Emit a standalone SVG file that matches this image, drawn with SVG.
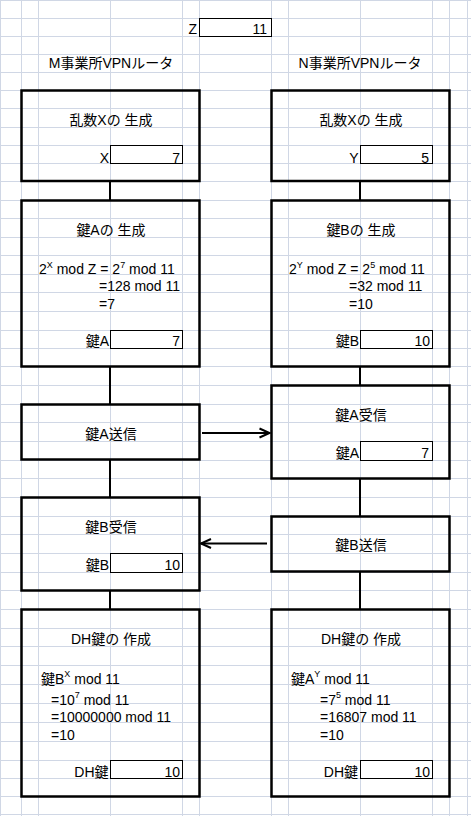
<svg xmlns="http://www.w3.org/2000/svg" width="471" height="816" viewBox="0 0 471 816">
<style>
.grid line{stroke:#d0d7e5;stroke-width:1}
.box{fill:none;stroke:#000;stroke-width:2.5}
.val{fill:none;stroke:#000;stroke-width:1}
text{font-family:"Liberation Sans","Noto Sans CJK JP",sans-serif;font-size:14px;fill:#000}
.c{text-anchor:middle}
.r{text-anchor:end}
.sup{font-size:9px}
.conn line{stroke:#000;stroke-width:2}
</style>
<defs>
<marker id="ah" markerUnits="userSpaceOnUse" markerWidth="14" markerHeight="12" refX="11" refY="5" orient="auto" overflow="visible">
<path d="M1,0.5 L11,5 L1,9.5" fill="none" stroke="#000" stroke-width="2"/>
</marker>
</defs>
<rect width="471" height="816" fill="#fff"/>
<g class="grid">
<line x1="0.5" y1="0" x2="0.5" y2="816"/>
<line x1="21.5" y1="0" x2="21.5" y2="816"/>
<line x1="38.5" y1="0" x2="38.5" y2="816"/>
<line x1="110.5" y1="0" x2="110.5" y2="816"/>
<line x1="182.5" y1="0" x2="182.5" y2="816"/>
<line x1="199.5" y1="0" x2="199.5" y2="816"/>
<line x1="271.5" y1="0" x2="271.5" y2="816"/>
<line x1="288.5" y1="0" x2="288.5" y2="816"/>
<line x1="360.5" y1="0" x2="360.5" y2="816"/>
<line x1="432.5" y1="0" x2="432.5" y2="816"/>
<line x1="449.5" y1="0" x2="449.5" y2="816"/>
<line x1="467.5" y1="0" x2="467.5" y2="816"/>
<line x1="0" y1="0.5" x2="471" y2="0.5"/>
<line x1="0" y1="18.5" x2="471" y2="18.5"/>
<line x1="0" y1="36.5" x2="471" y2="36.5"/>
<line x1="0" y1="54.5" x2="471" y2="54.5"/>
<line x1="0" y1="72.5" x2="471" y2="72.5"/>
<line x1="0" y1="90.5" x2="471" y2="90.5"/>
<line x1="0" y1="108.5" x2="471" y2="108.5"/>
<line x1="0" y1="127.5" x2="471" y2="127.5"/>
<line x1="0" y1="145.5" x2="471" y2="145.5"/>
<line x1="0" y1="163.5" x2="471" y2="163.5"/>
<line x1="0" y1="181.5" x2="471" y2="181.5"/>
<line x1="0" y1="200.5" x2="471" y2="200.5"/>
<line x1="0" y1="218.5" x2="471" y2="218.5"/>
<line x1="0" y1="237.5" x2="471" y2="237.5"/>
<line x1="0" y1="255.5" x2="471" y2="255.5"/>
<line x1="0" y1="274.5" x2="471" y2="274.5"/>
<line x1="0" y1="292.5" x2="471" y2="292.5"/>
<line x1="0" y1="311.5" x2="471" y2="311.5"/>
<line x1="0" y1="330.5" x2="471" y2="330.5"/>
<line x1="0" y1="348.5" x2="471" y2="348.5"/>
<line x1="0" y1="366.5" x2="471" y2="366.5"/>
<line x1="0" y1="385.5" x2="471" y2="385.5"/>
<line x1="0" y1="404.5" x2="471" y2="404.5"/>
<line x1="0" y1="422.5" x2="471" y2="422.5"/>
<line x1="0" y1="441.5" x2="471" y2="441.5"/>
<line x1="0" y1="460.5" x2="471" y2="460.5"/>
<line x1="0" y1="478.5" x2="471" y2="478.5"/>
<line x1="0" y1="497.5" x2="471" y2="497.5"/>
<line x1="0" y1="516.5" x2="471" y2="516.5"/>
<line x1="0" y1="534.5" x2="471" y2="534.5"/>
<line x1="0" y1="553.5" x2="471" y2="553.5"/>
<line x1="0" y1="572.5" x2="471" y2="572.5"/>
<line x1="0" y1="590.5" x2="471" y2="590.5"/>
<line x1="0" y1="609.5" x2="471" y2="609.5"/>
<line x1="0" y1="628.5" x2="471" y2="628.5"/>
<line x1="0" y1="646.5" x2="471" y2="646.5"/>
<line x1="0" y1="665.5" x2="471" y2="665.5"/>
<line x1="0" y1="684.5" x2="471" y2="684.5"/>
<line x1="0" y1="703.5" x2="471" y2="703.5"/>
<line x1="0" y1="722.5" x2="471" y2="722.5"/>
<line x1="0" y1="741.5" x2="471" y2="741.5"/>
<line x1="0" y1="760.5" x2="471" y2="760.5"/>
<line x1="0" y1="778.5" x2="471" y2="778.5"/>
<line x1="0" y1="796.5" x2="471" y2="796.5"/>
<line x1="0" y1="814.5" x2="471" y2="814.5"/>
</g>

<g id="param-z">
<text x="197" y="34" class="r">Z</text>
<rect class="val" x="199.5" y="18.5" width="72" height="18"/>
<text x="267" y="33.5" class="r">11</text>
</g>

<g id="header-m"><text x="111" y="68" class="c">M事業所VPNルータ</text></g>
<g id="header-n"><text x="360" y="68" class="c">N事業所VPNルータ</text></g>

<g id="m-random">
<rect class="box" x="21.5" y="90.5" width="178" height="90.5"/>
<text x="111" y="124.5" class="c">乱数Xの 生成</text>
<text x="109" y="162.5" class="r">X</text>
<rect class="val" x="110.5" y="145.5" width="72" height="18"/>
<text x="180" y="162.5" class="r">7</text>
</g>

<g id="n-random">
<rect class="box" x="271.5" y="90.5" width="178" height="90.5"/>
<text x="361" y="124.5" class="c">乱数Xの 生成</text>
<text x="358.5" y="162.5" class="r">Y</text>
<rect class="val" x="360.5" y="145.5" width="72" height="18"/>
<text x="429" y="162.5" class="r">5</text>
</g>

<g id="m-keygen">
<rect class="box" x="21.5" y="200.5" width="178" height="166"/>
<text x="111" y="234.5" class="c">鍵Aの 生成</text>
<text x="39" y="274">2<tspan class="sup" dy="-6">X</tspan><tspan dy="6"> mod Z = 2</tspan><tspan class="sup" dy="-6">7</tspan><tspan dy="6"> mod 11</tspan></text>
<text x="99" y="291">=128 mod 11</text>
<text x="99" y="308.5">=7</text>
<text x="109" y="346" class="r">鍵A</text>
<rect class="val" x="110.5" y="330.5" width="72" height="18"/>
<text x="180" y="346" class="r">7</text>
</g>

<g id="n-keygen">
<rect class="box" x="271.5" y="200.5" width="178" height="166"/>
<text x="361" y="234.5" class="c">鍵Bの 生成</text>
<text x="289" y="274">2<tspan class="sup" dy="-6">Y</tspan><tspan dy="6"> mod Z = 2</tspan><tspan class="sup" dy="-6">5</tspan><tspan dy="6"> mod 11</tspan></text>
<text x="349" y="291">=32 mod 11</text>
<text x="349" y="308.5">=10</text>
<text x="359" y="346" class="r">鍵B</text>
<rect class="val" x="360.5" y="330.5" width="72" height="18"/>
<text x="430" y="346" class="r">10</text>
</g>

<g id="m-send">
<rect class="box" x="21.5" y="404.5" width="178" height="55"/>
<text x="111" y="438.5" class="c">鍵A送信</text>
</g>

<g id="n-receive">
<rect class="box" x="271.5" y="385.5" width="178" height="93"/>
<text x="361" y="420" class="c">鍵A受信</text>
<text x="359" y="457.5" class="r">鍵A</text>
<rect class="val" x="360.5" y="441.5" width="72" height="19"/>
<text x="429" y="457.5" class="r">7</text>
</g>

<g id="m-receive">
<rect class="box" x="21.5" y="497.5" width="178" height="93"/>
<text x="111" y="532" class="c">鍵B受信</text>
<text x="109" y="570" class="r">鍵B</text>
<rect class="val" x="110.5" y="553.5" width="72" height="19"/>
<text x="180" y="570" class="r">10</text>
</g>

<g id="n-send">
<rect class="box" x="271.5" y="516.5" width="178" height="55"/>
<text x="361" y="550" class="c">鍵B送信</text>
</g>

<g id="m-dh">
<rect class="box" x="21.5" y="609.5" width="178" height="187"/>
<text x="111" y="643.5" class="c">DH鍵の 作成</text>
<text x="41" y="683.5">鍵B<tspan class="sup" dy="-6.5">X</tspan><tspan dy="6.5"> mod 11</tspan></text>
<text x="51" y="704.5">=10<tspan class="sup" dy="-6.5">7</tspan><tspan dy="6.5"> mod 11</tspan></text>
<text x="51" y="721.8">=10000000 mod 11</text>
<text x="51" y="739.5">=10</text>
<text x="108.5" y="776.5" class="r">DH鍵</text>
<rect class="val" x="110.5" y="760.5" width="72" height="18"/>
<text x="180" y="776.5" class="r">10</text>
</g>

<g id="n-dh">
<rect class="box" x="271.5" y="609.5" width="178" height="187"/>
<text x="361" y="643.5" class="c">DH鍵の 作成</text>
<text x="291" y="683.5">鍵A<tspan class="sup" dy="-6.5">Y</tspan><tspan dy="6.5"> mod 11</tspan></text>
<text x="320" y="704.5">=7<tspan class="sup" dy="-6.5">5</tspan><tspan dy="6.5"> mod 11</tspan></text>
<text x="320" y="721.8">=16807 mod 11</text>
<text x="320" y="739.5">=10</text>
<text x="358" y="776.5" class="r">DH鍵</text>
<rect class="val" x="360.5" y="760.5" width="72" height="18"/>
<text x="430" y="776.5" class="r">10</text>
</g>

<g class="conn" id="connectors">
<line x1="110" y1="181" x2="110" y2="200.5"/>
<line x1="110" y1="366.5" x2="110" y2="404.5"/>
<line x1="110" y1="459.5" x2="110" y2="497.5"/>
<line x1="110" y1="590.5" x2="110" y2="609.5"/>
<line x1="360" y1="181" x2="360" y2="200.5"/>
<line x1="360" y1="366.5" x2="360" y2="385.5"/>
<line x1="360" y1="478.5" x2="360" y2="516.5"/>
<line x1="360" y1="571.5" x2="360" y2="609.5"/>
<line x1="202" y1="433" x2="269.5" y2="433" marker-end="url(#ah)"/>
<line x1="267" y1="543.5" x2="201" y2="543.5" marker-end="url(#ah)"/>
</g>
</svg>
